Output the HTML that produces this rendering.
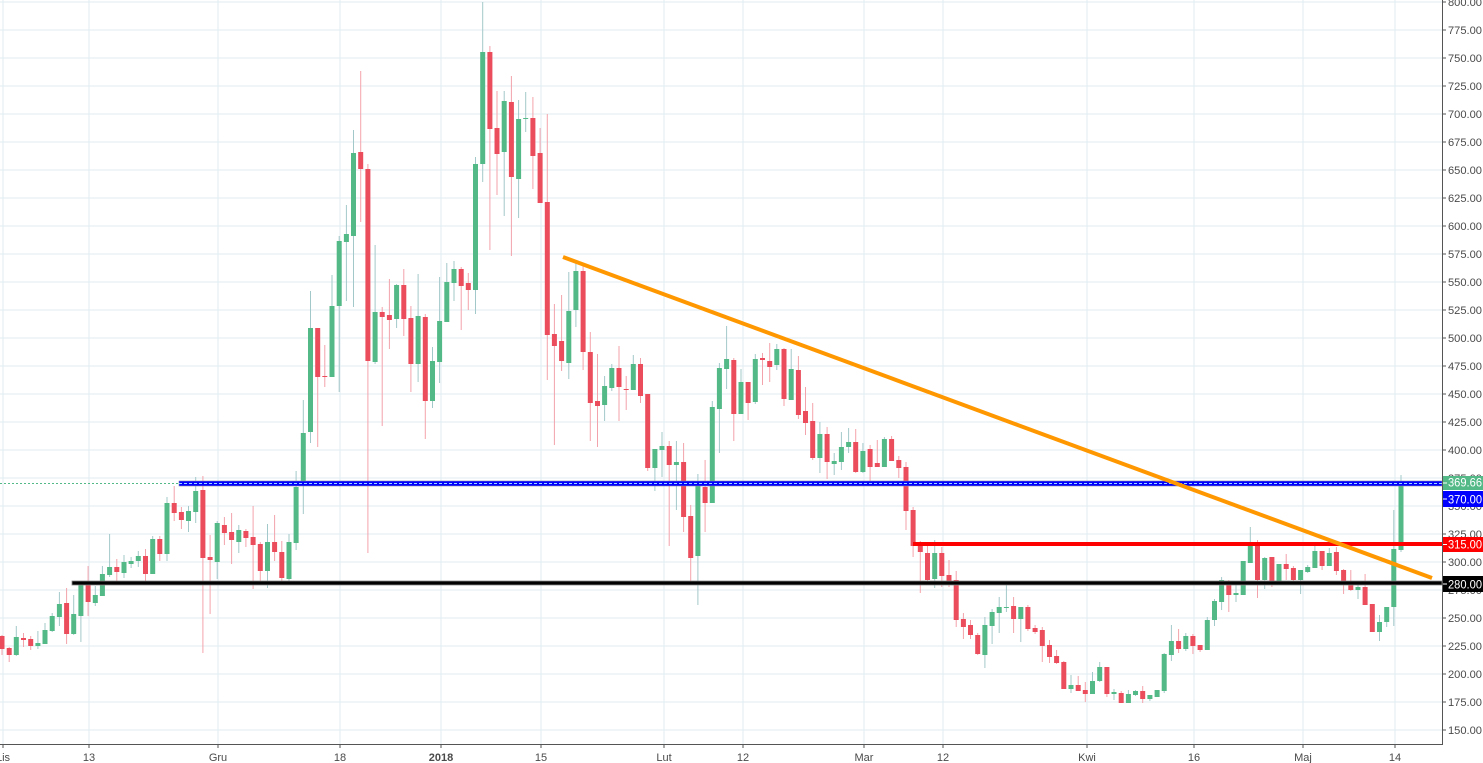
<!DOCTYPE html>
<html><head><meta charset="utf-8"><style>
html,body{margin:0;padding:0;background:#fff;}
svg{display:block;}
text{font-family:"Liberation Sans",sans-serif;}
</style></head><body>
<svg id="c" width="1483" height="763" xmlns="http://www.w3.org/2000/svg"></svg>
<script>
const D=`r 636 649 635 655
r 648 655 647 662
g 637 655 626 656
r 638 640 633 647
r 639 646 636 650
g 643 646 631 649
g 630 644 623 644
g 616 631 613 632
g 604 617 592 626
r 603 634 588 644
g 614 634 595 635
g 581 616 581 642
r 581 602 566 616
g 595 603 586 606
g 574 596 566 596
g 567 575 534 577
r 567 572 559 583
g 562 573 555 578
g 561 564 557 568
g 556 561 551 567
r 556 574 549 583
g 539 574 536 574
r 539 554 536 561
g 503 554 497 561
r 503 513 486 521
r 512 520 507 529
g 511 521 506 532
g 491 512 477 523
r 490 558 476 653
r 557 560 535 614
g 523 562 521 579
r 525 533 517 545
r 532 540 513 564
g 530 542 525 553
r 531 538 529 547
r 537 545 506 589
r 544 571 542 583
g 542 571 524 588
r 542 552 515 561
r 552 578 541 583
g 542 579 534 581
g 487 543 471 550
g 433 482 400 514
g 328 432 291 443
r 328 377 328 447
r 376 377 345 387
g 306 377 275 377
g 241 306 236 392
g 234 242 205 301
g 153 236 130 307
r 152 169 71 222
r 169 361 164 553
g 312 362 245 364
r 312 317 307 426
r 315 320 279 349
g 285 319 284 328
r 285 319 269 336
r 318 364 306 392
g 316 364 274 382
r 317 401 314 439
g 361 401 347 408
g 321 362 277 383
g 282 322 263 322
g 269 283 261 301
r 269 286 267 330
r 283 290 273 310
g 164 290 157 314
g 52 164 2 182
r 52 129 46 250
r 128 154 91 195
g 101 152 91 216
r 102 177 76 256
g 119 179 100 218
g 118 119 92 132
r 118 156 97 189
r 153 203 128 203
r 202 335 114 380
r 334 346 304 445
r 341 361 295 371
g 311 363 272 379
g 271 310 263 327
r 271 352 263 370
r 352 403 332 441
r 401 406 354 447
g 386 405 376 421
g 368 388 364 391
r 368 387 346 421
r 389 390 376 410
g 364 390 355 390
r 364 396 358 403
r 394 468 394 471
g 449 468 449 491
g 446 450 432 477
r 446 465 441 546
g 462 465 441 510
r 462 517 443 532
r 516 558 505 585
g 486 556 474 605
r 487 503 460 532
g 407 503 401 503
g 368 409 363 453
g 359 369 326 389
r 360 414 358 441
g 382 414 369 414
r 382 403 382 420
g 359 402 354 404
r 358 360 353 385
r 361 367 343 382
g 349 365 344 370
r 349 399 348 406
g 369 400 349 400
r 370 415 356 419
r 411 423 387 435
r 421 458 403 460
g 434 458 422 473
r 434 462 427 479
g 461 464 453 475
g 447 462 432 470
g 442 447 428 453
r 442 472 429 473
g 451 472 443 473
r 449 467 445 485
r 463 467 440 467
g 439 467 437 467
r 439 461 436 461
r 460 468 456 478
r 467 511 462 530
r 510 546 507 557
r 542 552 541 593
r 553 580 542 582
g 553 579 540 588
r 553 576 547 587
r 575 581 560 587
r 580 620 571 627
r 619 627 613 639
r 625 635 620 639
r 635 654 633 655
g 625 655 617 668
g 612 626 609 644
g 607 613 597 633
g 607 608 583 612
r 606 619 597 633
g 607 619 607 642
r 607 629 605 631
r 628 632 625 634
r 630 646 627 662
r 645 657 640 663
r 656 663 650 664
r 662 689 661 689
g 685 689 675 693
r 685 691 676 691
r 690 694 682 702
g 681 694 672 694
g 667 681 662 682
r 667 694 667 697
g 692 694 689 700
r 693 703 691 703
g 694 703 690 703
g 691 695 690 696
r 691 699 686 703
g 695 699 695 701
g 690 697 690 697
g 654 691 653 693
g 641 655 625 661
r 641 649 629 653
g 636 649 633 651
r 636 646 634 654
r 645 650 645 652
g 620 650 617 650
g 601 620 599 626
g 580 602 577 610
r 581 595 580 612
g 593 595 582 602
g 561 595 561 595
g 543 563 527 563
r 543 580 540 598
g 558 580 557 589
r 557 583 557 587
g 564 583 564 583
r 564 569 554 580
r 568 580 566 582
g 570 580 570 594
g 567 572 565 573
g 551 568 545 568
r 551 566 551 570
g 553 566 548 566
r 552 571 547 575
r 570 583 569 594
r 583 590 570 591
g 587 590 584 599
r 587 605 574 605
r 604 632 604 632
g 622 632 615 641
g 607 622 607 627
g 549 607 510 626
g 483 550 475 552`.trim().split('\n').map(l=>l.trim().split(/\s+/));
let s='';
const Y=v=>2+(800-v)*1.12;
for(let v=800;v>=150;v-=25){const y=Y(v).toFixed(1);s+=`<line x1="0" y1="${y}" x2="1442" y2="${y}" stroke="#e1ecf2" stroke-width="1"/>`;}
const VX=[3,89,218,340,441,541,664,743,864,943,1087,1194,1303,1395];
const VL=["Lis","13","Gru","18","2018","15","Lut","12","Mar","12","Kwi","16","Maj","14"];
VX.forEach((x,i)=>{s+=`<line x1="${x}" y1="0" x2="${x}" y2="744" stroke="#e1ecf2" stroke-width="1"/>`;});
const n=D.length, sp=1399/(n-1);
D.forEach((d,i)=>{const x=2+i*sp;const g=d[0]=='g';
const bt=+d[1],bb=+d[2],wt=+d[3],wb=+d[4];
s+=`<line x1="${x.toFixed(1)}" y1="${wt}" x2="${x.toFixed(1)}" y2="${wb}" stroke="${g?'#a3c8c9':'#f3a3ab'}" stroke-width="1"/>`;
s+=`<rect x="${(x-2.5).toFixed(1)}" y="${bt}" width="5" height="${Math.max(1,bb-bt)}" fill="${g?'#53b987':'#eb4d5c'}"/>`;});
s+=`<line x1="0" y1="483.5" x2="1442" y2="483.5" stroke="#53b987" stroke-width="1" stroke-dasharray="2,2"/>`;
s+=`<rect x="179" y="481" width="1263" height="5" fill="#0000ff" stroke="#8888aa" stroke-width="0.6"/>`;
s+=`<line x1="179" y1="483.5" x2="1442" y2="483.5" stroke="#9fd8ff" stroke-width="1" stroke-dasharray="3,2"/>`;
s+=`<rect x="913" y="542" width="529" height="4" fill="#ff0000"/>`;
s+=`<rect x="72" y="581" width="1370" height="4" fill="#000" stroke="#888" stroke-width="0.8"/>`;
s+=`<line x1="563" y1="257" x2="1432" y2="578" stroke="#ff9800" stroke-width="4"/>`;
s+=`<rect x="1443" y="0" width="40" height="763" fill="#fff"/>`;
s+=`<rect x="0" y="745" width="1443" height="18" fill="#fff"/>`;
VX.forEach((x,i)=>{s+=`<line x1="${x}" y1="744" x2="${x}" y2="748" stroke="#555" stroke-width="1"/>`;
s+=`<text x="${x}" y="761" text-anchor="middle" font-size="11" fill="#4a4a4a" ${VL[i]=="2018"?'font-weight="bold"':''}>${VL[i]}</text>`;});
s+=`<line x1="1442.5" y1="0" x2="1442.5" y2="744" stroke="#555" stroke-width="1"/>`;
s+=`<line x1="0" y1="744.5" x2="1443" y2="744.5" stroke="#555" stroke-width="1"/>`;
for(let v=800;v>=150;v-=25){const y=Y(v);s+=`<line x1="1442" y1="${y.toFixed(1)}" x2="1446" y2="${y.toFixed(1)}" stroke="#555"/>`;
s+=`<text x="1448" y="${(y+4).toFixed(1)}" font-size="11" fill="#4a4a4a" textLength="34" lengthAdjust="spacingAndGlyphs">${v.toFixed(2)}</text>`;}
const tags=[[476,490,'#53b987','369.66'],[491,507,'#0000ff','370.00'],[537,552,'#ff0000','315.00'],[576,592,'#000000','280.00']];
tags.forEach(t=>{s+=`<rect x="1443" y="${t[0]}" width="40" height="${t[1]-t[0]}" fill="${t[2]}"/>`;
s+=`<line x1="1443" y1="${(t[0]+t[1])/2}" x2="1447" y2="${(t[0]+t[1])/2}" stroke="#fff"/>`;
s+=`<text x="1448" y="${t[1]-3.5}" font-size="12" fill="#fff" textLength="34" lengthAdjust="spacingAndGlyphs">${t[3]}</text>`;});
document.getElementById('c').innerHTML=s;
</script>
</body></html>
